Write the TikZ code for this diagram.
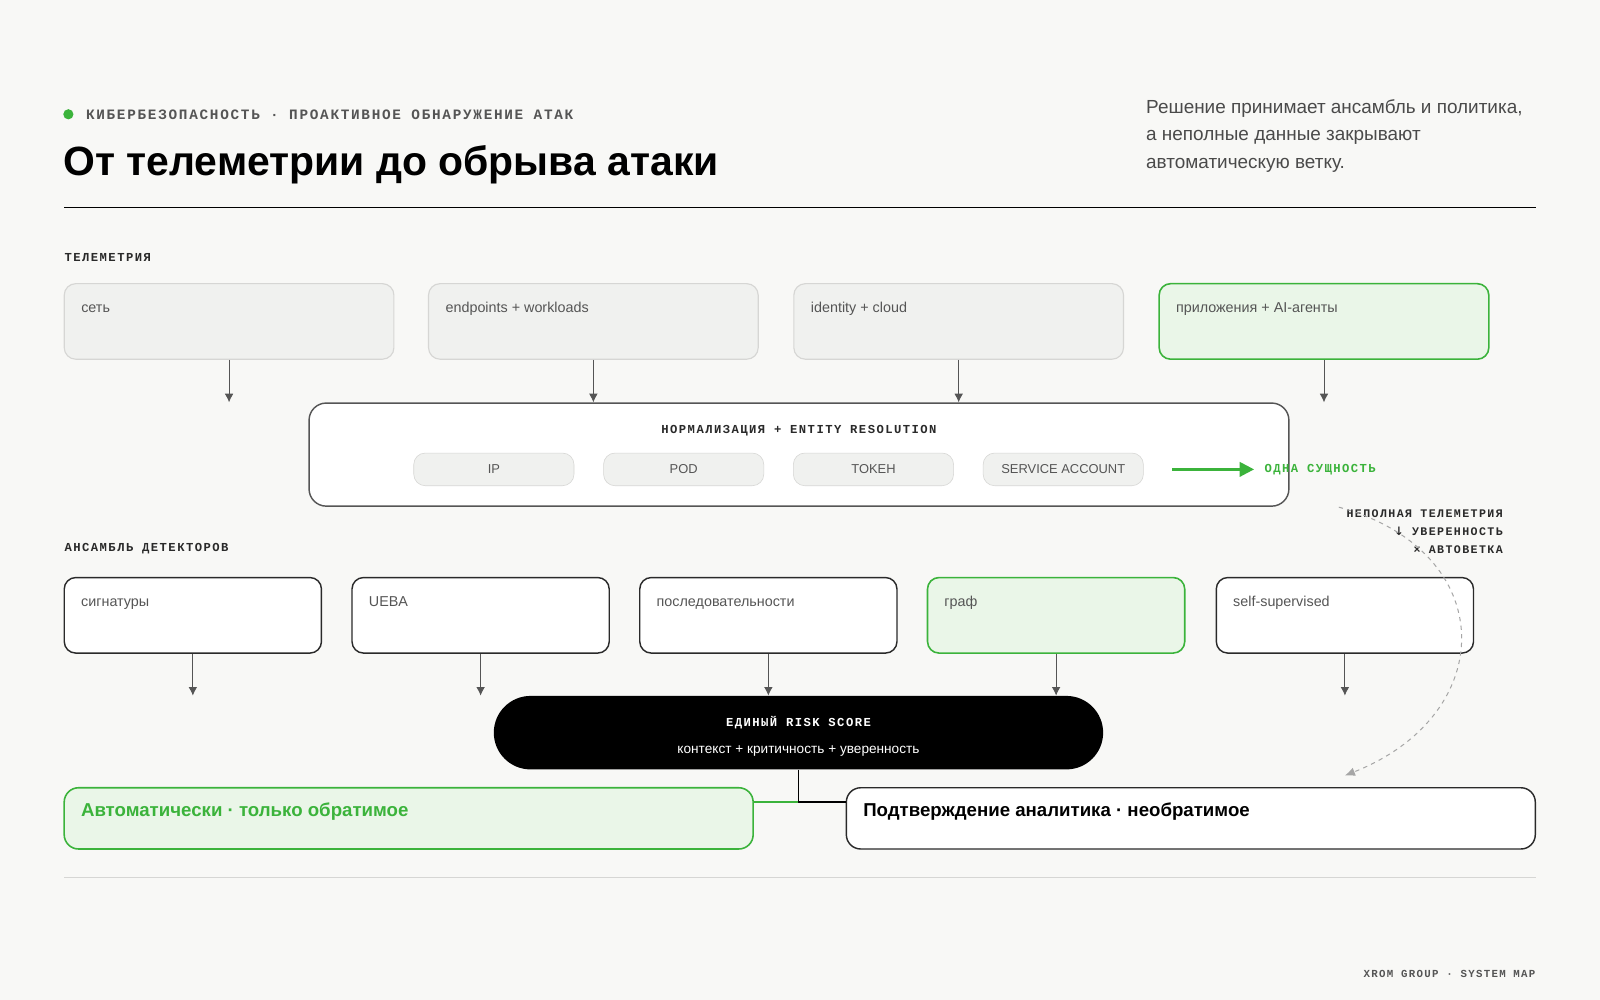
\documentclass[tikz,border=0pt]{standalone}
\usepackage{fontspec}
\setmainfont{Liberation Sans}
\newfontfamily\monofont{Liberation Mono}[LetterSpace=12]
\usetikzlibrary{arrows.meta,positioning,calc}
\definecolor{bgpaper}{HTML}{F8F8F6}
\definecolor{xgreen}{HTML}{3BB33B}
\definecolor{xgreenfill}{HTML}{EAF6E8}
\definecolor{xgray}{HTML}{F0F1EF}
\definecolor{xline}{HTML}{D6D6D4}
\definecolor{xdark}{HTML}{2A2A2A}
\definecolor{xtext}{HTML}{555555}

\begin{document}
\begin{tikzpicture}[
    x=0.025cm, y=-0.025cm,
    tele/.style={rectangle, rounded corners=8pt, draw=xline, fill=xgray, line width=0.8pt, minimum width=8.075cm, minimum height=1.85cm},
    det/.style={rectangle, rounded corners=8pt, draw=xdark, fill=white, line width=1pt, minimum width=6.3cm, minimum height=1.85cm},
    hot/.style={draw=xgreen, fill=xgreenfill, line width=1.1pt},
    pill/.style={rectangle, rounded corners=8pt, draw=xline, fill=xgray, minimum width=3.925cm, minimum height=0.8cm, font=\fontsize{9}{10}\selectfont, text=xtext},
    boxtext/.style={anchor=base west, inner sep=0pt, font=\fontsize{10}{12}\selectfont, text=xtext, xshift=0.425cm, yshift=-0.725cm},
    mono/.style={font=\monofont\bfseries\fontsize{8.5}{10}\selectfont, text=xdark},
    feed/.style={-{Latex[length=6pt,width=6pt]}, draw=xtext, line width=0.6pt}
]
    \useasboundingbox (0,0) rectangle (1568,980);
    \fill[bgpaper] (0,0) rectangle (1568,980);

    % header
    \fill[xgreen] (67,112) circle (5);
    \node[mono, anchor=west, inner sep=0pt, font=\monofont\bfseries\fontsize{10}{12}\selectfont, text=xtext] (tag) at (84,112) {КИБЕРБЕЗОПАСНОСТЬ · ПРОАКТИВНОЕ ОБНАРУЖЕНИЕ АТАК};
    \node[anchor=base west, inner sep=0pt, font=\bfseries\fontsize{28.5}{34}\selectfont, text=black] (title) at (62,172) {От телеметрии до обрыва атаки};
    \node[anchor=north west, inner sep=0pt, align=left, font=\fontsize{13.2}{19.2}\selectfont, text=xdark!85] (lead) at (1123,97)
        {Решение принимает ансамбль и политика,\\а неполные данные закрывают\\автоматическую ветку.};
    \draw[black, line width=0.8pt] (63,203) -- (1505,203);

    % telemetry
    \node[mono, anchor=west, inner sep=0pt] (telehead) at (63,252) {ТЕЛЕМЕТРИЯ};
    \node[tele] (net) at (224.5,315) {};
    \node[tele] (endp) at (581.5,315) {};
    \node[tele] (ident) at (939.5,315) {};
    \node[tele, hot] (apps) at (1297.5,315) {};
    \node[boxtext] at (net.north west) {сеть};
    \node[boxtext] at (endp.north west) {endpoints + workloads};
    \node[boxtext] at (ident.north west) {identity + cloud};
    \node[boxtext] at (apps.north west) {приложения + AI-агенты};

    % normalization
    \node[rectangle, rounded corners=12pt, draw=xtext, fill=white, line width=1pt, minimum width=24cm, minimum height=2.525cm] (norm) at (783,445.5) {};
    \node[mono] (normhead) at (783,422) {НОРМАЛИЗАЦИЯ + ENTITY RESOLUTION};
    \node[pill] (ip) at (484,460) {IP};
    \node[pill] (pod) at (670,460) {POD};
    \node[pill] (token) at (856,460) {TOKEH};
    \node[pill] (svc) at (1042,460) {SERVICE ACCOUNT};
    \coordinate (entfrom) at (1149,460);
    \node[mono, text=xgreen, anchor=west, inner sep=0pt] (entity) at (1239,460) {ОДНА СУЩНОСТЬ};
    \draw[-{Triangle[length=10pt,width=10pt]}, xgreen, line width=1.8pt] (entfrom) -- ($(entity.west)+(-10,0)$);

    \foreach \src in {net,endp,ident,apps}
        \draw[feed] (\src.south) -- (\src.south |- norm.north);

    % detectors
    \node[mono, anchor=west, inner sep=0pt] (dethead) at (63,538) {АНСАМБЛЬ ДЕТЕКТОРОВ};
    \node[det] (sig) at (189,603) {};
    \node[det] (ueba) at (471,603) {};
    \node[det] (seq) at (753,603) {};
    \node[det, hot] (graph) at (1035,603) {};
    \node[det] (selfsup) at (1318,603) {};
    \node[boxtext] at (sig.north west) {сигнатуры};
    \node[boxtext] at (ueba.north west) {UEBA};
    \node[boxtext] at (seq.north west) {последовательности};
    \node[boxtext] at (graph.north west) {граф};
    \node[boxtext] at (selfsup.north west) {self-supervised};

    \node[mono, anchor=north east, inner sep=0pt, align=right, font=\monofont\bfseries\fontsize{8.1}{12.5}\selectfont] (note) at (1473,499)
        {НЕПОЛНАЯ ТЕЛЕМЕТРИЯ\\{\fontspec{DejaVu Sans}↓} УВЕРЕННОСТЬ\\× АВТОВЕТКА};

    % risk score
    \node[rectangle, rounded corners=0.9cm, fill=black, minimum width=14.925cm, minimum height=1.8cm] (risk) at (782.5,718) {};
    \node[mono, text=white] (riskhead) at (782.5,708) {ЕДИНЫЙ RISK SCORE};
    \node[text=white, font=\fontsize{9.5}{11}\selectfont] (riskfoot) at (782.5,736) {контекст + критичность + уверенность};

    \foreach \src in {sig,ueba,seq,graph,selfsup}
        \draw[feed] (\src.south) -- (\src.south |- risk.north);

    % outcomes
    \node[rectangle, rounded corners=10pt, hot, minimum width=16.875cm, minimum height=1.5cm] (auto) at (400.5,802) {};
    \node[rectangle, rounded corners=10pt, draw=xdark, fill=white, line width=1pt, minimum width=16.875cm, minimum height=1.5cm] (confirm) at (1167,802) {};
    \node[boxtext, text=xgreen, font=\bfseries\fontsize{13}{15}\selectfont] at (auto.north west) {Автоматически · только обратимое};
    \node[boxtext, text=black, font=\bfseries\fontsize{13}{15}\selectfont] at (confirm.north west) {Подтверждение аналитика · необратимое};

    \coordinate (split) at (782.5,786);
    \draw[black, line width=1.2pt] (risk.south) -- (split) -- (split -| confirm.west);
    \draw[xgreen, line width=1.6pt] (split) -- (split -| auto.east);

    \coordinate (fromnote) at (1312,497);
    \coordinate (tocfm) at (1318,760);
    \draw[-{Latex[length=7pt,width=6pt]}, dashed, draw=black!35, line width=0.7pt]
        (fromnote) .. controls (1470,540) and (1470,700) .. (tocfm);

    \draw[xline, line width=0.8pt] (63,860) -- (1505,860);
    \node[mono, anchor=east, inner sep=0pt, font=\monofont\bfseries\fontsize{7.5}{9}\selectfont, text=xtext] (footer) at (1505,954) {XROM GROUP · SYSTEM MAP};
\end{tikzpicture}
\end{document}
